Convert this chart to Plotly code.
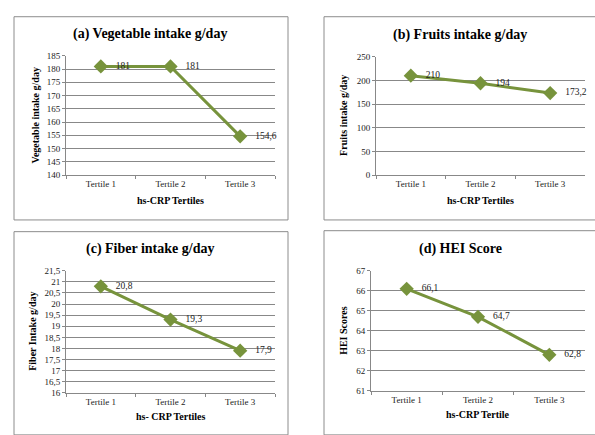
import plotly.graph_objects as go

W, H = 595, 435

categories = ["Tertile 1", "Tertile 2", "Tertile 3"]

veg_values = [181, 181, 154.6]
fruit_values = [210, 194, 173.2]
fiber_values = [20.8, 19.3, 17.9]
hei_values = [66.1, 64.7, 62.8]

titles = ["(a) Vegetable intake g/day", "(b) Fruits intake g/day",
          "(c) Fiber intake g/day", "(d) HEI Score"]
y_titles = ["Vegetable intake g/day", "Fruits intake g/day",
            "Fiber Intake g/day", "HEI Scores"]
x_titles = ["hs-CRP Tertiles", "hs-CRP Tertiles", "hs- CRP Tertiles", "hs-CRP Tertile"]

veg_ticks = [140, 145, 150, 155, 160, 165, 170, 175, 180, 185]
fruit_ticks = [0, 50, 100, 150, 200, 250]
fiber_ticks = [16, 16.5, 17, 17.5, 18, 18.5, 19, 19.5, 20, 20.5, 21, 21.5]
hei_ticks = [61, 62, 63, 64, 65, 66, 67]

series = [veg_values, fruit_values, fiber_values, hei_values]
ticks = [veg_ticks, fruit_ticks, fiber_ticks, hei_ticks]

# plot-area pixel boxes: (left, right, top, bottom)
plot_px = [(66, 275, 52, 174), (376, 585, 53, 174),
           (66, 275, 272, 397), (371, 585, 272, 395)]
# panel border boxes
panel_px = [(14, 288, 12, 220), (324, 600, 12, 220),
            (14, 288, 232, 440), (324, 600, 231, 440)]
title_px = [(150, 30), (460, 31), (150, 250), (460, 250)]
ytitle_x = [35, 344, 33, 344]
xtitle_y = [200, 200, 421, 419]

GREEN = "#77933C"
GRID = "#888888"
FONT = "Liberation Serif"


def fmt(v):
    s = f"{v:g}"
    return s.replace(".", ",")


fig = go.Figure()
annotations = []
shapes = []
for i in range(4):
    l, r, t, b = plot_px[i]
    xa = "xaxis" if i == 0 else f"xaxis{i+1}"
    ya = "yaxis" if i == 0 else f"yaxis{i+1}"
    xr = "x" if i == 0 else f"x{i+1}"
    yr = "y" if i == 0 else f"y{i+1}"
    fig.add_trace(go.Scatter(
        x=categories, y=series[i], xaxis=xr, yaxis=yr,
        mode="lines+markers+text",
        line=dict(color=GREEN, width=3),
        marker=dict(symbol="diamond", size=11, color=GREEN),
        text=["   " + fmt(v) for v in series[i]],
        textposition="middle right",
        textfont=dict(family=FONT, size=9.5, color="#222"),
        cliponaxis=False, showlegend=False,
    ))
    tk = ticks[i]
    fig.layout[xa] = dict(
        domain=[l / W, r / W], anchor=yr, type="category",
        range=[-0.5, 2.5], showgrid=False, showline=True, linecolor=GRID,
        linewidth=1, ticks="outside", tickson="boundaries", ticklen=3,
        tickcolor=GRID, tickfont=dict(family=FONT, size=9, color="#222"),
        zeroline=False, fixedrange=True,
    )
    fig.layout[ya] = dict(
        domain=[1 - b / H, 1 - t / H], anchor=xr,
        range=[tk[0], tk[-1]], tickvals=tk, ticktext=[fmt(v) for v in tk],
        showgrid=True, gridcolor=GRID, gridwidth=1, showline=True,
        linecolor=GRID, ticks="outside", ticklen=3, tickcolor=GRID,
        tickfont=dict(family=FONT, size=9, color="#222"), zeroline=False,
        fixedrange=True,
    )
    pl, pr, pt, pb = panel_px[i]
    shapes.append(dict(type="rect", xref="paper", yref="paper",
                       x0=pl / W, x1=pr / W, y0=1 - pb / H, y1=1 - pt / H,
                       line=dict(color="#8c8c8c", width=1), layer="below"))
    tx, ty = title_px[i]
    annotations.append(dict(text=f"<b>{titles[i]}</b>", xref="paper", yref="paper",
                            x=tx / W, y=1 - ty / H, showarrow=False,
                            xanchor="center", yanchor="middle",
                            font=dict(family=FONT, size=14, color="#000")))
    annotations.append(dict(text=f"<b>{y_titles[i]}</b>", xref="paper", yref="paper",
                            x=ytitle_x[i] / W, y=1 - (t + b) / 2 / H, textangle=-90,
                            showarrow=False, xanchor="center", yanchor="middle",
                            font=dict(family=FONT, size=10, color="#000")))
    annotations.append(dict(text=f"<b>{x_titles[i]}</b>", xref="paper", yref="paper",
                            x=(l + r) / 2 / W, y=1 - xtitle_y[i] / H,
                            showarrow=False, xanchor="center", yanchor="middle",
                            font=dict(family=FONT, size=10, color="#000")))

fig.update_layout(width=W, height=H, margin=dict(l=0, r=0, t=0, b=0),
                  paper_bgcolor="white", plot_bgcolor="white",
                  font=dict(family=FONT),
                  annotations=annotations, shapes=shapes)

fig.write_html("out.html", config={"displayModeBar": False},
               post_script="document.body.style.margin='0';document.body.style.overflow='hidden';")
